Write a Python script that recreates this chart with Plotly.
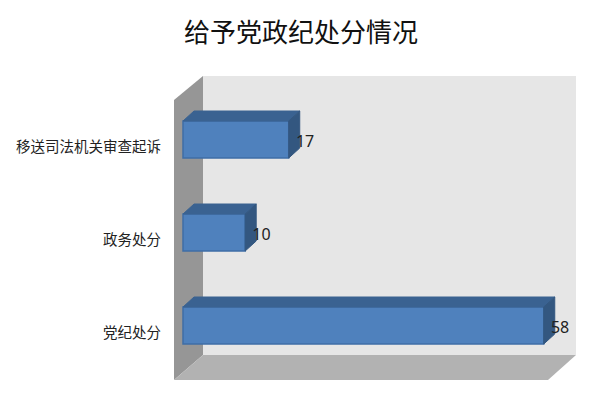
import plotly.graph_objects as go

# datos
categorias = ["党纪处分", "政务处分", "移送司法机关审查起诉"]
valores = [58, 10, 17]
posiciones = [0, 1, 2]
titulo = "给予党政纪处分情况"

# escala del dibujo (pixeles de la ventana)
MARGEN_PAGINA = 8  # el body de la pagina corre todo 8 px
ANCHO, ALTO = 600 - 2 * MARGEN_PAGINA, 400 - 2 * MARGEN_PAGINA
IZQ, DER, ARR, ABA = 174, 576, 76, 380
PX_X = 6.22   # pixeles por unidad en x
PX_Y = 93     # pixeles entre categorias
X0_PX, Y0_PX = 183, 325.5
GROSOR = 37 / PX_Y
DX = 11 / PX_X   # profundidad de las barras
DY = 10 / PX_Y

FUENTE = "Noto Sans CJK SC"


def px(x, y):
  # pasa pixeles de la ventana a coordenadas paper del area de dibujo
  return (x - IZQ) / (DER - IZQ), (ABA - y) / (ABA - ARR)


def poligono(puntos):
  camino = "M " + " L ".join("{},{}".format(*px(x, y)) for x, y in puntos) + " Z"
  return camino


paredes = [
  (poligono([(203, 76), (576, 76), (576, 355), (203, 355)]), "#e6e6e6"),
  (poligono([(174, 100), (203, 76), (203, 355), (174, 380)]), "#969696"),
  (poligono([(174, 380), (203, 355), (576, 355), (548, 380)]), "#b2b2b2"),
]

fig = go.Figure()

# caras superior y lateral de cada barra, a partir de los valores
for v, p in zip(valores, posiciones):
  sup = p + GROSOR / 2
  inf = p - GROSOR / 2
  fig.add_trace(go.Scatter(
    x=[0, DX, v + DX, v, 0], y=[sup, sup + DY, sup + DY, sup, sup],
    mode="lines", fill="toself", fillcolor="#3a6291",
    line={"color": "#3a6291", "width": 1}, hoverinfo="skip", showlegend=False))
  fig.add_trace(go.Scatter(
    x=[v, v + DX, v + DX, v, v], y=[sup, sup + DY, inf + DY, inf, sup],
    mode="lines", fill="toself", fillcolor="#335780",
    line={"color": "#335780", "width": 1}, hoverinfo="skip", showlegend=False))

fig.add_trace(go.Bar(
  x=valores, y=posiciones, orientation="h", width=GROSOR,
  marker={"color": "#4f81bd", "line": {"color": "#3f6ea6", "width": 1.5}},
  showlegend=False))

# las etiquetas van un poco mas abajo que el centro de la barra
fig.add_trace(go.Scatter(
  x=[v + 1.15 for v in valores], y=[p - 3 / PX_Y for p in posiciones], mode="text",
  text=[str(v) for v in valores], textposition="middle right",
  textfont={"family": "Liberation Sans Narrow, Noto Sans", "size": 16, "color": "#222222"},
  cliponaxis=False, showlegend=False))

fig.update_layout(
  width=ANCHO, height=ALTO,
  margin={"l": IZQ - MARGEN_PAGINA, "r": ANCHO + MARGEN_PAGINA - DER,
          "t": ARR - MARGEN_PAGINA, "b": ALTO + MARGEN_PAGINA - ABA, "pad": 0},
  paper_bgcolor="white", plot_bgcolor="rgba(0,0,0,0)",
  title={"text": titulo, "x": (301 - MARGEN_PAGINA) / ANCHO, "xanchor": "center",
         "y": 1 - (33 - MARGEN_PAGINA) / ALTO, "yanchor": "middle",
         "font": {"family": FUENTE, "size": 26, "color": "#111111"}},
  shapes=[{"type": "path", "path": c, "xref": "paper", "yref": "paper",
           "fillcolor": color, "line": {"width": 0}, "layer": "below"}
          for c, color in paredes],
  xaxis={"range": [(IZQ - X0_PX) / PX_X, (DER - X0_PX) / PX_X], "visible": False,
         "automargin": False},
  yaxis={"range": [(Y0_PX - ABA) / PX_Y, (Y0_PX - ARR) / PX_Y], "automargin": False,
         "tickvals": [p - 7 / PX_Y for p in posiciones], "ticktext": categorias,
         "showgrid": False, "zeroline": False, "showline": False, "ticks": "",
         "ticklabelstandoff": 12,
         "tickfont": {"family": FUENTE, "size": 14.5, "color": "#222222"}},
)

fig.write_html("out.html")
